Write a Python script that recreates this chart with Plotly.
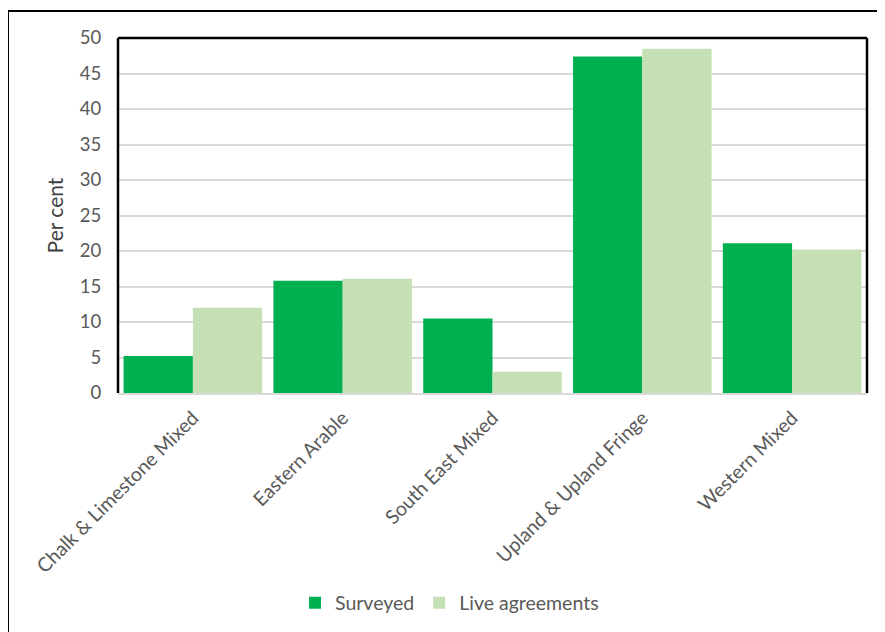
import plotly.graph_objects as go

categories = ["Chalk & Limestone Mixed", "Eastern Arable", "South East Mixed",
              "Upland & Upland Fringe", "Western Mixed"]
surveyed = [5.2, 15.8, 10.5, 47.4, 21.1]
live_agreements = [12.0, 16.1, 3.0, 48.5, 20.2]
y_ticks = [0, 5, 10, 15, 20, 25, 30, 35, 40, 45, 50]

# page body has an 8px margin, so figure coordinates are offset by 8px
OFF = 8
W, H = 885, 632
L, T = 118 - OFF, 38 - OFF
pw, ph = 749, 355
R = W - L - pw
B = H - T - ph

FONT = "Lato"
GREY = "#595959"

fig = go.Figure()
fig.add_trace(go.Bar(x=categories, y=surveyed, name="Surveyed",
                     marker=dict(color="#00B050", line=dict(width=0))))
fig.add_trace(go.Bar(x=categories, y=live_agreements, name="Live agreements",
                     marker=dict(color="#C5E0B4", line=dict(width=0))))

def px_x(v):
    return (v - OFF - L) / pw

def px_y(v):
    return (T + ph - (v - OFF)) / ph

fig.update_layout(
    width=W, height=H,
    margin=dict(l=L, r=R, t=T, b=B),
    paper_bgcolor="white", plot_bgcolor="white",
    barmode="group", bargap=0.075, bargroupgap=0,
    font=dict(family=FONT, size=19, color=GREY),
    showlegend=True,
    legend=dict(orientation="h", x=px_x(295), y=px_y(603), xanchor="left", yanchor="middle",
                font=dict(family=FONT, size=19.5, color=GREY), itemwidth=30,
                bgcolor="rgba(0,0,0,0)"),
    xaxis=dict(tickangle=-45, showgrid=False, showline=True, linecolor="#D9D9D9",
               linewidth=2, ticks="outside", ticklen=4, tickcolor="rgba(0,0,0,0)",
               tickfont=dict(family=FONT, size=19.5, color=GREY),
               mirror=False),
    yaxis=dict(range=[0, 50], tickvals=y_ticks, showgrid=True, gridcolor="#D9D9D9",
               gridwidth=1.5, zeroline=False, showline=False, ticks="outside",
               ticklen=12, tickcolor="rgba(0,0,0,0)",
               tickfont=dict(family=FONT, size=18.5, color=GREY),
               title=dict(text="Per cent", font=dict(family=FONT, size=21, color="#404040"),
                          standoff=10)),
    shapes=[
        # plot area border: left, top, right
        dict(type="line", xref="paper", yref="paper", x0=0, x1=0, y0=0, y1=1,
             line=dict(color="black", width=2.5)),
        dict(type="line", xref="paper", yref="paper", x0=0, x1=1, y0=1, y1=1,
             line=dict(color="black", width=2.5)),
        dict(type="line", xref="paper", yref="paper", x0=1, x1=1, y0=0, y1=1,
             line=dict(color="black", width=2.5)),
        # outer chart frame (left and top)
        dict(type="line", xref="paper", yref="paper", x0=px_x(8), x1=px_x(8),
             y0=px_y(H + 20), y1=px_y(11), line=dict(color="black", width=2)),
        dict(type="line", xref="paper", yref="paper", x0=px_x(8), x1=px_x(W + 20),
             y0=px_y(11), y1=px_y(11), line=dict(color="black", width=2)),
    ],
)

fig.write_html("out.html")
